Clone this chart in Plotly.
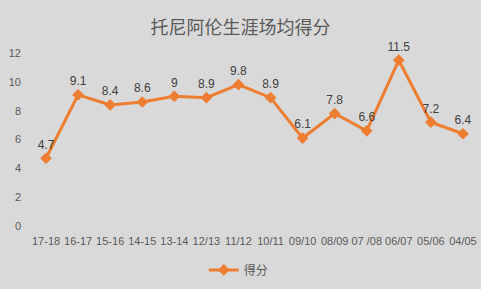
import plotly.graph_objects as go

categories = ["17-18", "16-17", "15-16", "14-15", "13-14", "12/13", "11/12", "10/11",
              "09/10", "08/09", "07 /08", "06/07", "05/06", "04/05"]
values = [4.7, 9.1, 8.4, 8.6, 9, 8.9, 9.8, 8.9, 6.1, 7.8, 6.6, 11.5, 7.2, 6.4]
labels = ["4.7", "9.1", "8.4", "8.6", "9", "8.9", "9.8", "8.9", "6.1", "7.8", "6.6", "11.5", "7.2", "6.4"]
y_ticks = [0, 2, 4, 6, 8, 10, 12]

font = "Liberation Sans, Noto Sans CJK SC, sans-serif"
orange = "#ED7D31"

fig = go.Figure()
fig.add_trace(go.Scatter(
    x=categories, y=values, mode="lines+markers+text", name="得分",
    text=labels, textposition="top center", cliponaxis=False,
    textfont=dict(size=12, color="#404040", family=font),
    line=dict(color=orange, width=3),
    marker=dict(symbol="diamond", size=9, color=orange),
))
fig.update_layout(
    width=481, height=289,
    paper_bgcolor="#d9d9d9", plot_bgcolor="#d9d9d9",
    margin=dict(l=30, r=2, t=53, b=63, autoexpand=False),
    title=dict(text="托尼阿伦生涯场均得分", x=0.5, xanchor="center", y=0.905, yanchor="middle",
               font=dict(size=18, color="#595959", family="Noto Sans CJK SC, sans-serif")),
    font=dict(family=font, color="#595959", size=11),
    showlegend=True,
    legend=dict(orientation="h", x=0.465, xanchor="center", y=-0.17, yanchor="top",
                font=dict(size=12, color="#595959", family="Noto Sans CJK SC, sans-serif"),
                bgcolor="rgba(0,0,0,0)"),
    xaxis=dict(range=[-0.5, len(categories) - 0.5], showgrid=False, showline=False,
               zeroline=False, ticks="", automargin=False,
               ticklabelstandoff=7, tickfont=dict(size=11, color="#595959"), tickangle=0),
    yaxis=dict(range=[0, 12], tickvals=y_ticks, showgrid=False, showline=False, zeroline=False,
               automargin=False, ticks="", ticklabelstandoff=8,
               tickfont=dict(size=11, color="#595959")),
)
fig.write_html("out.html")
